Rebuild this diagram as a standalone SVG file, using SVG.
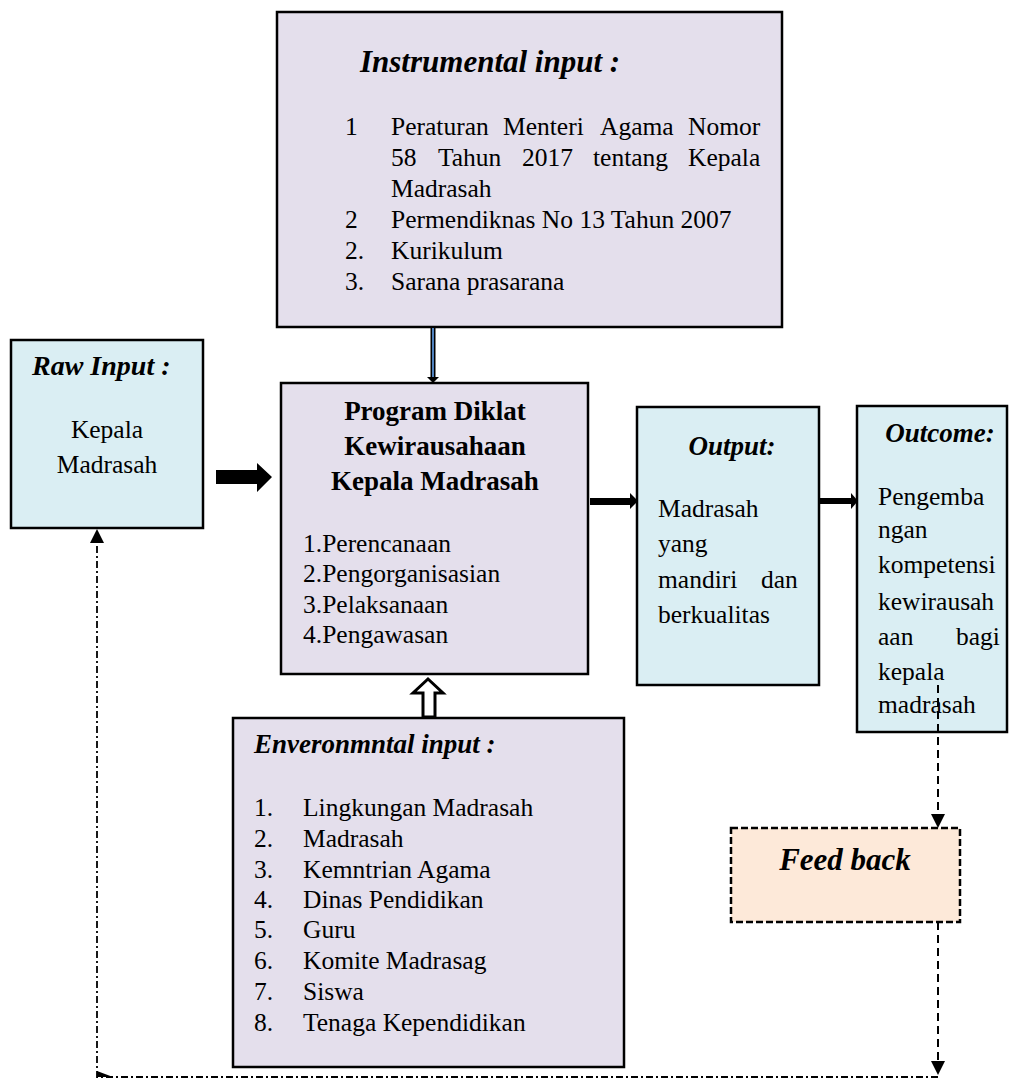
<svg xmlns="http://www.w3.org/2000/svg" width="1009" height="1080" viewBox="0 0 1009 1080">
<style>
.box{stroke:#000;stroke-width:2.5}
.lav{fill:#E4DFEC}
.blue{fill:#DAEEF3}
.peach{fill:#FDE9D9;stroke:#000;stroke-width:2.5;stroke-dasharray:7 3}
text{font-family:"Liberation Serif","Times New Roman",serif;fill:#000;font-size:25.5px}
.h{font-weight:bold;font-style:italic;font-size:27px}
.b{font-weight:bold;font-size:27px}
.mid{text-anchor:middle}
.dash{fill:none;stroke:#000;stroke-width:2;stroke-dasharray:8 5}
.dd{fill:none;stroke:#000;stroke-width:1.8;stroke-dasharray:7 3 2 3}
.solid{fill:#000}
</style>
<defs>
<marker id="tri" viewBox="0 0 10 10" refX="10" refY="5" markerWidth="14" markerHeight="14" markerUnits="userSpaceOnUse" orient="auto">
<path d="M0,0 L10,5 L0,10 z" fill="#000"/>
</marker>
</defs>

<g id="instrumental">
<rect class="box lav" x="277" y="12" width="505" height="315"/>
<text class="h" x="360" y="72" style="font-size:31px">Instrumental input :</text>
<text x="345" y="135">1</text>
<text y="135"><tspan x="391">Peraturan</tspan><tspan x="503">Menteri</tspan><tspan x="600">Agama</tspan><tspan x="688">Nomor</tspan></text>
<text y="166"><tspan x="391">58</tspan><tspan x="438">Tahun</tspan><tspan x="522">2017</tspan><tspan x="593">tentang</tspan><tspan x="688">Kepala</tspan></text>
<text x="391" y="197">Madrasah</text>
<text x="345" y="228">2</text>
<text x="391" y="228">Permendiknas No 13 Tahun 2007</text>
<text x="345" y="259">2.</text>
<text x="391" y="259">Kurikulum</text>
<text x="345" y="290">3.</text>
<text x="391" y="290">Sarana prasarana</text>
</g>

<g id="raw">
<rect class="box blue" x="11" y="340" width="192" height="188"/>
<text class="h" x="32" y="375" style="font-size:28px">Raw Input :</text>
<text class="mid" x="107" y="438">Kepala</text>
<text class="mid" x="107" y="473">Madrasah</text>
</g>

<g id="program">
<rect class="box lav" x="281" y="383" width="307" height="291"/>
<text class="b mid" x="435" y="420">Program Diklat</text>
<text class="b mid" x="435" y="455">Kewirausahaan</text>
<text class="b mid" x="435" y="490">Kepala Madrasah</text>
<text x="303" y="552">1.Perencanaan</text>
<text x="303" y="582">2.Pengorganisasian</text>
<text x="303" y="613">3.Pelaksanaan</text>
<text x="303" y="643">4.Pengawasan</text>
</g>

<g id="output">
<rect class="box blue" x="637" y="407" width="182" height="278"/>
<text class="h mid" x="732" y="455">Output:</text>
<text x="658" y="517">Madrasah</text>
<text x="658" y="552">yang</text>
<text y="588"><tspan x="658">mandiri</tspan><tspan x="761">dan</tspan></text>
<text x="658" y="623">berkualitas</text>
</g>

<g id="outcome">
<rect class="box blue" x="857" y="406" width="150" height="326"/>
<text class="h mid" x="940" y="442">Outcome:</text>
<text x="878" y="505">Pengemba</text>
<text x="878" y="538">ngan</text>
<text x="878" y="573">kompetensi</text>
<text x="878" y="610">kewirausah</text>
<text y="645"><tspan x="878">aan</tspan><tspan x="956">bagi</tspan></text>
<text x="878" y="680">kepala</text>
<text x="878" y="713">madrasah</text>
</g>

<g id="environmental">
<rect class="box lav" x="233" y="718" width="391" height="349"/>
<text class="h" x="254" y="753">Enveronmntal input :</text>
<text x="254" y="816">1.</text><text x="303" y="816">Lingkungan Madrasah</text>
<text x="254" y="847">2.</text><text x="303" y="847">Madrasah</text>
<text x="254" y="878">3.</text><text x="303" y="878">Kemntrian Agama</text>
<text x="254" y="908">4.</text><text x="303" y="908">Dinas Pendidikan</text>
<text x="254" y="938">5.</text><text x="303" y="938">Guru</text>
<text x="254" y="969">6.</text><text x="303" y="969">Komite Madrasag</text>
<text x="254" y="1000">7.</text><text x="303" y="1000">Siswa</text>
<text x="254" y="1031">8.</text><text x="303" y="1031">Tenaga Kependidikan</text>
</g>

<g id="feedback">
<rect class="peach" x="731" y="828" width="229" height="94"/>
<text class="h mid" x="845" y="870" style="font-size:31px">Feed back</text>
</g>

<g id="connectors">
<line x1="433" y1="328" x2="433" y2="378" stroke="#000" stroke-width="5"/>
<line x1="433" y1="328" x2="433" y2="378" stroke="#4F81BD" stroke-width="2"/>
<polygon points="427,377 439,377 433,383" fill="#000"/>
<polygon class="solid" points="216,470 257,470 257,463 272,477 257,492 257,484 216,484"/>
<polygon class="solid" points="590,498 630,498 630,493 638,501 630,509 630,505 590,505"/>
<polygon class="solid" points="820,498 851,498 851,493 858,501 851,509 851,504 820,504"/>
<polygon points="428,679 443,693 435,693 435,717 423,717 423,693 413,693" fill="#fff" stroke="#000" stroke-width="3"/>
<line class="dash" x1="938" y1="685" x2="938" y2="828" marker-end="url(#tri)"/>
<line class="dash" x1="938" y1="922" x2="938" y2="1075" marker-end="url(#tri)"/>
<path class="dd" d="M938,1077 H97 V529" marker-end="url(#tri)"/>
<polygon points="97,1071 113,1077 97,1077" fill="#000"/>
</g>
</svg>
